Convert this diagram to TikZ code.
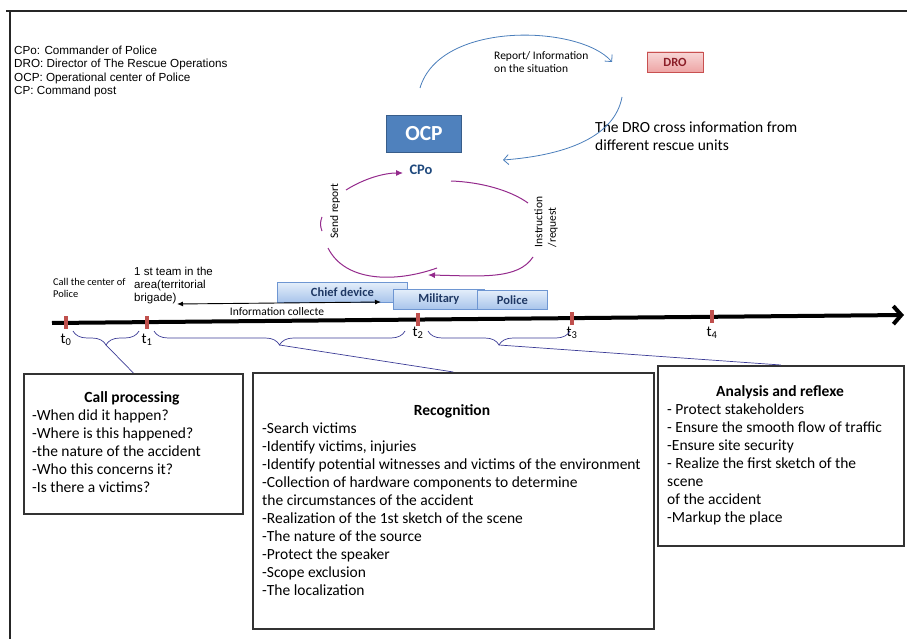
\documentclass[tikz,border=0pt]{standalone}
\usepackage{fontspec}
\setmainfont{Carlito}
\newfontfamily\arialfont{Liberation Sans}
\usetikzlibrary{arrows.meta,decorations.pathreplacing}

\definecolor{ocpblue}{RGB}{79,129,189}
\definecolor{ocpedge}{RGB}{56,93,138}
\definecolor{cpoblue}{RGB}{31,73,125}
\definecolor{arcblue}{RGB}{74,126,187}
\definecolor{loopviolet}{RGB}{148,42,140}
\definecolor{tickred}{RGB}{192,80,77}
\definecolor{dropink}{RGB}{238,165,165}
\definecolor{droedge}{RGB}{200,80,80}
\definecolor{drotext}{RGB}{140,30,40}
\definecolor{unitedge}{RGB}{110,150,210}
\definecolor{unittop}{RGB}{228,238,250}
\definecolor{unitbot}{RGB}{168,196,235}
\definecolor{unittext}{RGB}{31,56,100}
\definecolor{bracecol}{RGB}{60,60,150}

\tikzset{
  panel/.style={draw=black!80, line width=1.8pt, rectangle, inner sep=0pt, anchor=north west},
  unit/.style={draw=unitedge, line width=0.8pt, top color=unittop, bottom color=unitbot,
    font=\fontsize{12.5}{14}\selectfont\bfseries, text=unittext, inner sep=0pt, anchor=north west},
  body/.style={font=\fontsize{15.5}{18}\selectfont, align=left, inner sep=0pt, anchor=north west},
  headline/.style={font=\fontsize{15.5}{18}\selectfont\bfseries, inner sep=0pt},
  tick/.style={fill=tickred, inner sep=0pt, minimum width=3.5pt, minimum height=13pt},
  ticklabel/.style={font=\fontsize{15}{16}\selectfont, inner sep=0pt},
  curly/.style={draw=bracecol, line width=0.7pt, decorate, decoration={brace, mirror, amplitude=14pt}},
  arcarrow/.style={draw=arcblue, line width=0.8pt, -{Straight Barb[length=5pt,width=10pt]}},
  loop/.style={draw=loopviolet, line width=1pt},
}

\begin{document}
\begin{tikzpicture}[x=1pt,y=-1pt]
\useasboundingbox (0,0) rectangle (907,639);

% frame
\draw[black!85, line width=1.8pt] (6,11) -- (907,11);
\draw[black!85, line width=1.8pt] (10,11) -- (10,639);

% legend
\node[font=\fontsize{11.7}{13.6}\selectfont\arialfont, align=left, inner sep=0pt, anchor=north west] (legend) at (14,45.5)
  {CPo: Commander of Police\\DRO: Director of The Rescue Operations\\OCP: Operational center of Police\\CP: Command post};

% top part
\node[draw=ocpedge, line width=1.2pt, fill=ocpblue, minimum width=75pt, minimum height=37pt, text=white,
  font=\fontsize{21.5}{24}\selectfont\bfseries] (ocp) at (424,134) {OCP};
\node[font=\fontsize{14.5}{16}\selectfont\bfseries, text=cpoblue] (cpo) at (421,170) {CPo};
\node[draw=droedge, line width=0.8pt, top color=dropink!45, bottom color=dropink, minimum width=56pt,
  minimum height=20pt, inner sep=0pt, text=drotext, font=\fontsize{12.5}{14}\selectfont\bfseries] (dro) at (675,62) {DRO};

\node[font=\fontsize{11.5}{13.5}\selectfont, align=left, inner sep=0pt, anchor=north west] (reportlbl) at (494,51)
  {Report/ Information\\on the situation};
\node[body] (crosslbl) at (595,121.5) {The DRO cross information from\\different rescue units};

\coordinate (repstart) at (420,88);
\coordinate (repend) at (612,62);
\coordinate (crossstart) at (622,97);
\coordinate (crossend) at (503,160);
\draw[arcarrow] (repstart) .. controls (440,20) and (580,25) .. (repend);
\draw[arcarrow] (crossstart) .. controls (615,135) and (570,155) .. (crossend);

% loop round CPo
\coordinate (la1) at (346,190); \coordinate (la2) at (403,173);
\coordinate (lb1) at (451,181); \coordinate (lb2) at (528,203);
\coordinate (lc1) at (322,217); \coordinate (lc2) at (322,231);
\coordinate (ld1) at (328,248); \coordinate (ld2) at (437,268);
\coordinate (le1) at (533,257); \coordinate (le2) at (428,275);
\draw[loop, -{Latex[length=7pt,width=6pt]}] (la1) .. controls (365,178) and (385,173) .. (la2);
\draw[loop] (lb1) .. controls (480,182) and (510,190) .. (lb2);
\draw[loop] (lc1) .. controls (320,222) and (320,226) .. (lc2);
\draw[loop] (ld1) .. controls (345,282) and (395,283) .. (ld2);
\draw[loop, -{Latex[length=7pt,width=6pt]}] (le1) .. controls (518,280) and (480,276) .. (le2);

\node[font=\fontsize{11.5}{13}\selectfont, rotate=90, inner sep=0pt] (sendlbl) at (335,211) {Send report};
\node[font=\fontsize{11.5}{13.5}\selectfont, rotate=90, align=left, inner sep=0pt] (instrlbl) at (546,222) {Instruction\\/request};

% units on the time line
\node[font=\fontsize{10.4}{11.7}\selectfont, align=left, inner sep=0pt, anchor=north west] (calllbl) at (53,278.5)
  {Call the center of\\Police};
\node[font=\fontsize{11.5}{13.3}\selectfont\arialfont, align=left, inner sep=0pt, anchor=north west] (teamlbl) at (134,266.5)
  {1 st team in the\\area(territorial\\brigade)};
\node[unit, minimum width=130pt, minimum height=20pt] (chief) at (277,282) {Chief device};
\node[unit, minimum width=91pt, minimum height=20pt] (military) at (393,289) {Military};
\node[unit, minimum width=70pt, minimum height=19pt] (police) at (477,290) {Police};

\coordinate (infoL) at (177,304);
\coordinate (infoR) at (381,302);
\draw[line width=0.9pt, {Latex[length=6pt,width=5pt]}-{Latex[length=6pt,width=5pt]}] (infoL) -- (infoR);
\node[font=\fontsize{11.5}{13}\selectfont, inner sep=0pt] (infolbl) at (277,312) {Information collecte};

% time line
\coordinate (tlstart) at (52,323);
\coordinate (tlend) at (904,315);
\draw[line width=4pt, -{Straight Barb[length=8pt,width=18pt]}] (tlstart) -- (tlend);
\foreach \name/\x/\lbl/\ly in {t0/66/0/340, t1/147/1/340, t2/418/2/333, t3/572/3/333, t4/712/4/333}{
  \node[tick] (\name) at (\x,{323-8*(\x-52)/852}) {};
  \node[ticklabel] (\name lbl) at (\x,\ly) {t\textsubscript{\lbl}};
}

% phases
\node[panel, minimum width=219pt, minimum height=140pt] (callbox) at (23,373) {};
\node[panel, minimum width=401pt, minimum height=256pt] (recbox) at (252,372) {};
\node[panel, minimum width=246pt, minimum height=180pt] (anabox) at (657,365) {};

\node[headline] (calltitle) at (132,398) {Call processing};
\node[body] (callitems) at (32,409.5) {-When did it happen?\\-Where is this happened?\\-the nature of the accident\\-Who this concerns it?\\-Is there a victims?};

\node[headline] (rectitle) at (452,411) {Recognition};
\node[body] (recitems) at (262,422.5) {-Search victims\\-Identify victims, injuries\\-Identify potential witnesses and victims of the environment\\-Collection of hardware components to determine\\the circumstances of the accident\\-Realization of the 1st sketch of the scene\\-The nature of the source\\-Protect the speaker\\-Scope exclusion\\-The localization};

\node[headline] (anatitle) at (780,392) {Analysis and reflexe};
\node[body] (anaitems) at (667,403.5) {- Protect stakeholders\\- Ensure the smooth flow of traffic\\-Ensure site security\\- Realize the first sketch of the\\scene\\of the accident\\-Markup the place};

% braces and links
\foreach \i/\xa/\xb/\target in {0/73/139/callbox, 1/154/405/recbox, 2/428/570/anabox}{
  \coordinate (bl\i) at (\xa,331);
  \coordinate (br\i) at (\xb,331);
  \coordinate (tip\i) at ({(\xa+\xb)/2},345);
  \draw[curly] (bl\i) -- (br\i);
  \draw[bracecol, line width=0.7pt] (tip\i) -- (\target.north);
}

\end{tikzpicture}
\end{document}
